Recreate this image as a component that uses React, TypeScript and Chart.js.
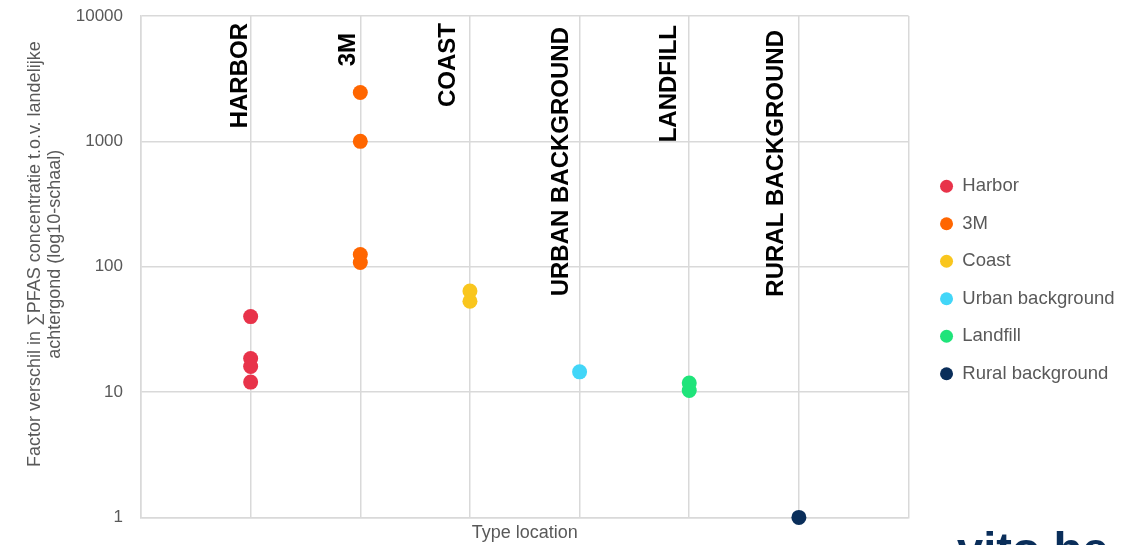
import React, { useEffect, useRef } from "react";
import { Chart, registerables } from "chart.js";

Chart.register(...registerables);

const seriesNames = ["Harbor", "3M", "Coast", "Urban background", "Landfill", "Rural background"];
const seriesColors = ["#E8334A", "#FF6600", "#F9C61E", "#42D6F8", "#1FE47A", "#0A2E5A"];
const categoryIndex = [1, 2, 3, 4, 5, 6];
const harborValues = [40, 18.5, 16, 12];
const threeMValues = [2450, 1000, 125, 108];
const coastValues = [64, 53];
const urbanValues = [14.5];
const landfillValues = [11.8, 10.3];
const ruralValues = [1];
const categoryLabels = ["HARBOR", "3M", "COAST", "URBAN BACKGROUND", "LANDFILL", "RURAL BACKGROUND"];
const yTickValues = [1, 10, 100, 1000, 10000];

// annotation layout (x in axis units, top offset in px from chart top)
const labelX = [0.902, 1.887, 2.807, 3.838, 4.823, 5.798];
const labelTopOffset = [7, 17, 7, 11, 9, 14];

const allValues = [harborValues, threeMValues, coastValues, urbanValues, landfillValues, ruralValues];

const labelPlugin = {
  id: "catLabels",
  afterDatasetsDraw(chart: any) {
    const { ctx, chartArea, scales } = chart;
    ctx.save();
    ctx.font = "bold 24px 'Liberation Sans', Arial, sans-serif";
    ctx.fillStyle = "#000000";
    ctx.textBaseline = "middle";
    ctx.textAlign = "right";
    categoryLabels.forEach((lab, i) => {
      const x = scales.x.getPixelForValue(labelX[i]);
      const y = chartArea.top + labelTopOffset[i];
      ctx.save();
      ctx.translate(x, y);
      ctx.rotate(-Math.PI / 2);
      ctx.fillText(lab, 0, 0);
      ctx.restore();
    });
    ctx.restore();
  },
};

export default function App() {
  const ref = useRef<HTMLCanvasElement>(null);
  useEffect(() => {
    document.body.style.margin = "0";
    const font = "'Liberation Sans', Arial, sans-serif";
    const grey = "#595959";
    const gridColor = "#d9d9d9";
    const chart = new Chart(ref.current!, {
      type: "scatter",
      data: {
        datasets: seriesNames.map((name, i) => ({
          label: name,
          data: allValues[i].map((v) => ({ x: categoryIndex[i], y: v })),
          backgroundColor: seriesColors[i],
          borderColor: seriesColors[i],
          borderWidth: 0,
          pointRadius: 7.5,
          pointHoverRadius: 7.5,
          pointStyle: "circle",
          clip: false,
        })),
      },
      options: {
        animation: false,
        responsive: false,
        maintainAspectRatio: false,
        layout: { padding: { left: 25, top: 16, right: 15.5, bottom: 1 } },
        plugins: {
          tooltip: { enabled: false },
          legend: {
            position: "right",
            align: "center",
            labels: {
              usePointStyle: true,
              pointStyle: "circle",
              boxWidth: 13,
              boxHeight: 9.2,
              padding: 19,
              color: grey,
              font: { family: font, size: 18.5 },
            },
          },
        },
        scales: {
          x: {
            type: "linear",
            min: 0,
            max: 7,
            ticks: { display: false, stepSize: 1 },
            grid: { color: gridColor, lineWidth: 1.5, drawTicks: false },
            border: { color: gridColor, width: 1.5 },
            title: {
              display: true,
              text: "Type location",
              color: grey,
              font: { family: font, size: 18 },
              padding: { top: 5, bottom: 0 },
            },
          },
          y: {
            type: "logarithmic",
            min: 1,
            max: 10000,
            afterBuildTicks(scale: any) {
              scale.ticks = yTickValues.map((v) => ({ value: v }));
            },
            afterFit(scale: any) {
              scale.width = 116;
              scale.paddingTop = 0;
              scale.paddingBottom = 0;
            },
            ticks: {
              color: grey,
              font: { family: font, size: 17 },
              padding: 18,
              callback: (v: any) => String(v),
            },
            grid: { color: gridColor, lineWidth: 1.5, drawTicks: false },
            border: { color: gridColor, width: 1.5 },
            title: {
              display: true,
              text: [
                "     Factor verschil in \u2211PFAS concentratie t.o.v. landelijke",
                "     achtergond (log10-schaal)",
              ],
              color: grey,
              font: { family: font, size: 18, lineHeight: 1.1 },
              padding: { top: 0, bottom: 0 },
            },
          },
          gap: {
            type: "linear",
            position: "right",
            display: false,
            afterFit(scale: any) {
              scale.width = 12.5;
            },
          },
        },
      } as any,
      plugins: [labelPlugin],
    });
    return () => chart.destroy();
  }, []);
  return (
    <div style={{ position: "fixed", left: 0, top: 0, width: 1140, height: 545, overflow: "hidden", background: "#fff" }}>
      <canvas ref={ref} width={1140} height={545} style={{ display: "block" }} />
      <div
        style={{
          position: "absolute",
          left: 957,
          top: 525,
          fontFamily: "'Liberation Sans', Arial, sans-serif",
          fontWeight: "bold",
          fontSize: 47,
          lineHeight: "47px",
          color: "#0A2E5A",
          whiteSpace: "nowrap",
        }}
      >
        vito.be
      </div>
    </div>
  );
}
